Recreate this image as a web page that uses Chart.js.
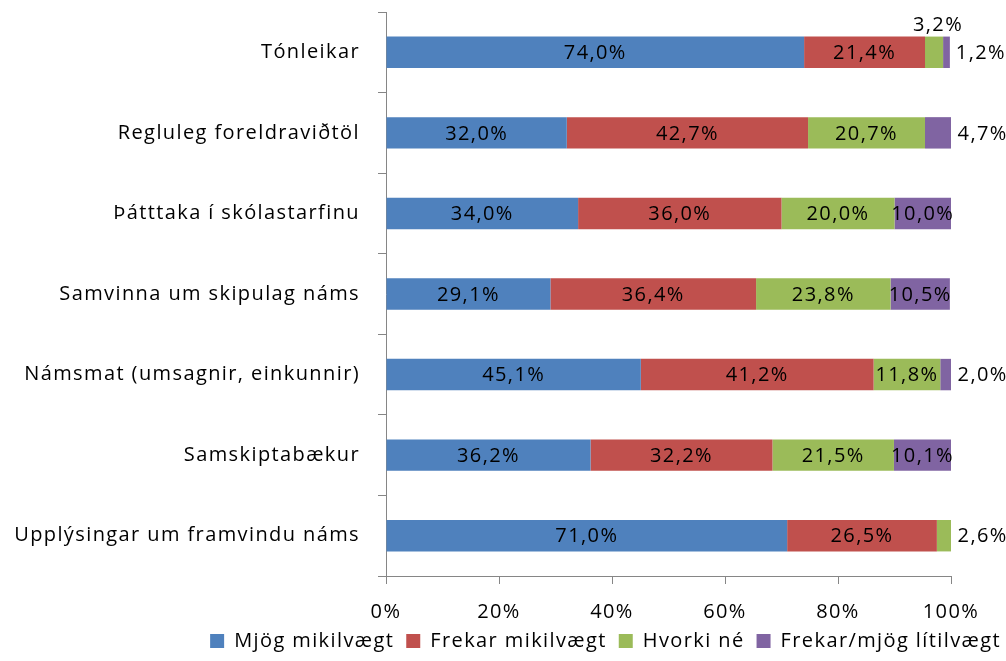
<!DOCTYPE html>
<html>
<head>
<meta charset="utf-8">
<script src="https://cdn.jsdelivr.net/npm/chart.js@4/dist/chart.umd.min.js"></script>
<style>
  body { margin: 0; background: #fff; }
  #wrap { width: 1006px; height: 661px; }
</style>
</head>
<body>
<div id="wrap"><canvas id="chart"></canvas></div>
<script>
const categories = [
    'Tónleikar',
    'Regluleg foreldraviðtöl',
    'Þátttaka í skólastarfinu',
    'Samvinna um skipulag náms',
    'Námsmat (umsagnir, einkunnir)',
    'Samskiptabækur',
    'Upplýsingar um framvindu náms'
];
const seriesNames = ['Mjög mikilvægt', 'Frekar mikilvægt', 'Hvorki né', 'Frekar/mjög lítilvægt'];
const mjogMikilvaegt = [74.0, 32.0, 34.0, 29.1, 45.1, 36.2, 71.0];
const frekarMikilvaegt = [21.4, 42.7, 36.0, 36.4, 41.2, 32.2, 26.5];
const hvorkiNe = [3.2, 20.7, 20.0, 23.8, 11.8, 21.5, 2.6];
const litilvaegt = [1.2, 4.7, 10.0, 10.5, 2.0, 10.1, 0];
const xTicks = [0, 20, 40, 60, 80, 100];

const colors = ['#4f81bd', '#c0504d', '#9bbb59', '#8064a2'];
const FONT_FAMILY = '"Open Sans", sans-serif';
const FONT_SIZE = 20;
const LETTER_SPACING = '1.4px';
const axisColor = '#868686';
const plotBottom = 576;

function fmt(v) {
    return v.toFixed(1).replace('.', ',') + '%';
}

// the original text is spaced out, canvas letterSpacing gets close to it
const spacing = {
    id: 'spacing',
    beforeLayout(chart) { chart.ctx.letterSpacing = LETTER_SPACING; },
    beforeDraw(chart) { chart.ctx.letterSpacing = LETTER_SPACING; }
};

// draws the percentage labels, small ones go outside the bar
const segmentLabels = {
    id: 'segmentLabels',
    afterDatasetsDraw(chart) {
        const ctx = chart.ctx;
        ctx.save();
        ctx.font = FONT_SIZE + 'px ' + FONT_FAMILY;
        ctx.fillStyle = '#000';
        const datasets = chart.data.datasets;
        chart.data.labels.forEach((cat, i) => {
            let last = -1;
            datasets.forEach((ds, d) => { if (ds.data[i] > 0) last = d; });
            datasets.forEach((ds, d) => {
                const v = ds.data[i];
                if (!v) return;
                const bar = chart.getDatasetMeta(d).data[i];
                const txt = fmt(v);
                if (v >= 5) {
                    ctx.textAlign = 'center';
                    ctx.textBaseline = 'middle';
                    ctx.fillText(txt, (bar.x + bar.base) / 2, bar.y + 1);
                } else if (d === last) {
                    ctx.textAlign = 'left';
                    ctx.textBaseline = 'middle';
                    ctx.fillText(txt, bar.x + 6, bar.y + 1);
                } else {
                    ctx.textAlign = 'center';
                    ctx.textBaseline = 'bottom';
                    ctx.fillText(txt, (bar.x + bar.base) / 2 + 4, bar.y - bar.height / 2 - 1);
                }
            });
        });
        ctx.restore();
    }
};

const chart = new Chart(document.getElementById('chart'), {
    type: 'bar',
    data: {
        labels: categories,
        datasets: [mjogMikilvaegt, frekarMikilvaegt, hvorkiNe, litilvaegt].map((vals, k) => ({
            label: seriesNames[k],
            data: vals,
            backgroundColor: colors[k],
            borderWidth: 0,
            barPercentage: 0.39,
            categoryPercentage: 1.0
        }))
    },
    plugins: [spacing, segmentLabels],
    options: {
        indexAxis: 'y',
        responsive: true,
        maintainAspectRatio: false,
        animation: false,
        layout: {
            padding: { top: 12, left: 0, right: -7, bottom: 0 }
        },
        plugins: {
            legend: {
                position: 'bottom',
                align: 'end',
                labels: {
                    color: '#000',
                    boxWidth: 14,
                    boxHeight: 14,
                    padding: 12,
                    font: { family: FONT_FAMILY, size: FONT_SIZE }
                }
            },
            tooltip: { enabled: false }
        },
        scales: {
            x: {
                stacked: true,
                min: 0,
                max: 100,
                afterBuildTicks: (scale) => {
                    scale.ticks = xTicks.map(v => ({ value: v }));
                },
                // legend is fitted first, the axis takes what is left below the plot
                afterFit: (scale) => {
                    scale.height = scale.chart.height - plotBottom - scale.chart.legend.height;
                },
                ticks: {
                    color: '#000',
                    padding: 16,
                    font: { family: FONT_FAMILY, size: FONT_SIZE },
                    callback: (v) => v + '%'
                },
                grid: {
                    drawOnChartArea: false,
                    drawTicks: true,
                    tickLength: 8,
                    color: axisColor
                },
                border: { color: axisColor, width: 1 }
            },
            y: {
                stacked: true,
                afterFit: (scale) => {
                    scale.width = 386;
                    scale.paddingTop = 0;
                    scale.paddingBottom = 0;
                },
                ticks: {
                    color: '#000',
                    padding: 18,
                    font: { family: FONT_FAMILY, size: FONT_SIZE }
                },
                grid: {
                    offset: true,
                    drawOnChartArea: false,
                    drawTicks: true,
                    tickLength: 8,
                    color: axisColor
                },
                border: { color: axisColor, width: 1 }
            },
            spacer: {
                type: 'linear',
                position: 'right',
                display: true,
                afterFit: (scale) => {
                    scale.width = 62;
                    scale.paddingTop = 0;
                    scale.paddingBottom = 0;
                },
                ticks: { display: false },
                grid: { display: false },
                border: { display: false }
            }
        }
    }
});
</script>
</body>
</html>
